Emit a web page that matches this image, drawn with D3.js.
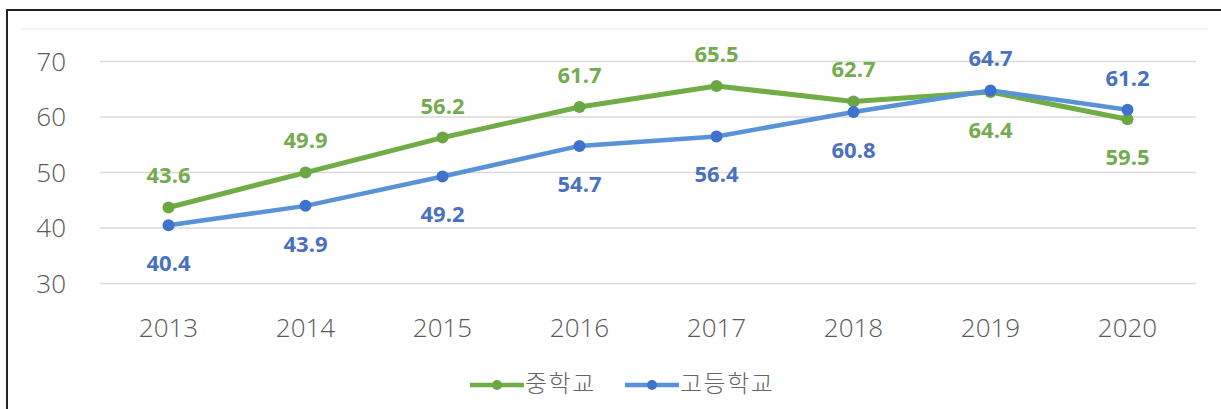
<!DOCTYPE html>
<html><head><meta charset="utf-8">
<script src="https://cdn.jsdelivr.net/npm/d3@7/dist/d3.min.js"></script>
<style>
html,body{margin:0;padding:0;background:#fff;}
svg{display:block;}
</style></head>
<body>
<svg id="chart" width="1221" height="409"></svg>
<script>
const years = ["2013","2014","2015","2016","2017","2018","2019","2020"];
const middleSchool = [43.6, 49.9, 56.2, 61.7, 65.5, 62.7, 64.4, 59.5];
const highSchool = [40.4, 43.9, 49.2, 54.7, 56.4, 60.8, 64.7, 61.2];
const seriesNames = ["중학교", "고등학교"];
const yTicks = [30, 40, 50, 60, 70];
// label placement: true = above point
const middleAbove = [true, true, true, true, true, true, false, false];
const highAbove = [false, false, false, false, false, false, true, true];

const svg = d3.select("#chart");
const W = 1221, H = 409;
const lineColors = ["#70AD47", "#5a92d8"];
const markerColors = ["#6aa641", "#3f72cc"];
const labelColors = ["#75ab4f", "#4a70c0"];

// frame
svg.append("rect").attr("x", 7).attr("y", 10).attr("width", W + 20).attr("height", H + 20)
  .attr("fill", "none").attr("stroke", "#222").attr("stroke-width", 2);
// faint plot-area top line
svg.append("line").attr("x1", 22).attr("x2", 1208).attr("y1", 29).attr("y2", 29)
  .attr("stroke", "#e6e6e6").attr("stroke-width", 1);

const x = d3.scaleBand().domain(years).range([100, 1196]).padding(0);
const y = d3.scaleLinear().domain([30, 70]).range([283, 61]);
const cx = d => x(d) + x.bandwidth() / 2;

const tickFont = "'Open Sans','Noto Sans',sans-serif";

// grid
const yAxis = d3.axisLeft(y).tickValues(yTicks).tickSize(-(1196 - 100)).tickPadding(34);
const gy = svg.append("g").attr("transform", "translate(100,0)").call(yAxis);
gy.select(".domain").remove();
gy.selectAll(".tick line").attr("stroke", "#d9d9d9").attr("stroke-width", 1.3);
gy.selectAll(".tick text").attr("fill", "#595959").attr("font-size", 26).attr("font-weight", 300)
  .attr("font-family", tickFont).attr("dy", "0.36em");

const xAxis = d3.axisBottom(x).tickSize(0).tickPadding(0);
const gx = svg.append("g").attr("transform", "translate(0,283)").call(xAxis);
gx.select(".domain").remove();
gx.selectAll(".tick text").attr("fill", "#595959").attr("font-size", 26).attr("font-weight", 300)
  .attr("font-family", tickFont).attr("y", 45).attr("dy", "0.36em");

const series = [
  {name: seriesNames[0], values: middleSchool, above: middleAbove, color: lineColors[0], mc: markerColors[0], lc: labelColors[0], w: 5},
  {name: seriesNames[1], values: highSchool, above: highAbove, color: lineColors[1], mc: markerColors[1], lc: labelColors[1], w: 4.5}
];

const line = d3.line().x((d, i) => cx(years[i])).y(d => y(d));

series.forEach(s => {
  svg.append("path").datum(s.values).attr("d", line).attr("fill", "none")
    .attr("stroke", s.color).attr("stroke-width", s.w).attr("stroke-linejoin", "round").attr("stroke-linecap", "round");
});
series.forEach(s => {
  svg.append("g").selectAll("circle").data(s.values).join("circle")
    .attr("cx", (d, i) => cx(years[i])).attr("cy", d => y(d)).attr("r", 6).attr("fill", s.mc);
});
series.forEach(s => {
  svg.append("g").selectAll("text").data(s.values).join("text")
    .attr("x", (d, i) => cx(years[i]))
    .attr("y", (d, i) => y(d) + (s.above[i] ? -32 : 38))
    .attr("dy", "0.36em")
    .attr("text-anchor", "middle")
    .attr("font-family", "'Open Sans','Noto Sans',sans-serif")
    .attr("font-weight", "bold").attr("font-size", 22)
    .attr("fill", s.lc)
    .text(d => d.toFixed(1));
});

// legend
const legend = [
  {name: seriesNames[0], color: lineColors[0], mc: markerColors[0], x0: 470},
  {name: seriesNames[1], color: lineColors[1], mc: markerColors[1], x0: 625}
];
legend.forEach(l => {
  const g = svg.append("g");
  g.append("line").attr("x1", l.x0).attr("x2", l.x0 + 54).attr("y1", 385).attr("y2", 385)
    .attr("stroke", l.color).attr("stroke-width", 4.5);
  g.append("circle").attr("cx", l.x0 + 27).attr("cy", 385).attr("r", 5).attr("fill", l.mc);
  g.append("text").attr("x", l.x0 + 55).attr("y", 383).attr("dy", "0.36em")
    .attr("font-family", "'Noto Sans CJK KR',sans-serif").attr("font-size", 24).attr("font-weight", 300)
    .attr("letter-spacing", 1.5)
    .attr("fill", "#666").text(l.name);
});
</script>
</body></html>
